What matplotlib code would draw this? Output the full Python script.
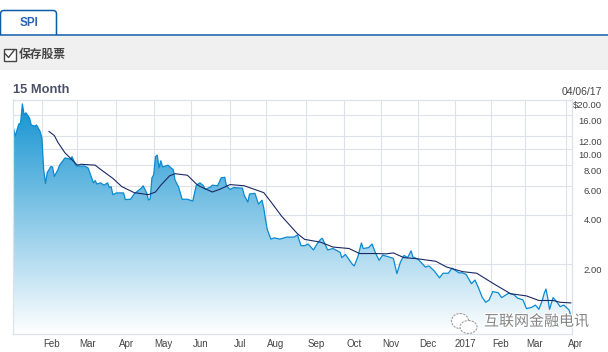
# SPI 15 month price chart, x axis counts trading sessions
import numpy as np
import matplotlib
matplotlib.use("Agg")
import matplotlib.pyplot as plt
import matplotlib.patheffects as pe
from matplotlib.patches import Rectangle, Ellipse, PathPatch
from matplotlib.path import Path
from matplotlib.colors import LinearSegmentedColormap
from matplotlib.ticker import NullLocator
from matplotlib.transforms import ScaledTranslation

plt.rcParams['font.family'] = ['Liberation Sans', 'Noto Sans CJK SC', 'DejaVu Sans']

# price: session number and close
price_s = [0, 1, 2, 3, 4, 5, 6, 7, 9, 10, 12, 13, 15, 16, 17, 18, 19, 21, 22, 23, 25, 26, 29, 32, 33, 35, 36, 40, 42, 43,
           45, 46, 47, 49, 51, 53, 54, 55, 56, 58, 62, 63, 66, 68, 72, 73, 75, 76, 77, 78, 79, 80, 81, 82, 83, 84, 87, 90, 91, 93,
           95, 98, 101, 103, 105, 107, 108, 111, 112, 115, 117, 119, 120, 122, 124, 129, 130, 132, 133, 136, 137, 138, 140, 141, 142, 143, 145, 147, 150, 154,
           158, 160, 162, 164, 166, 169, 171, 173, 174, 177, 180, 184, 185, 187, 191, 192, 194, 196, 197, 200, 202, 204, 206, 208, 211, 214, 216, 218, 220, 222,
           224, 225, 228, 232, 234, 237, 240, 242, 245, 247, 251, 253, 255, 258, 260, 262, 264, 266, 268, 270, 273, 275, 279, 282, 284, 287, 289, 292, 294, 296,
           298, 299, 300, 301, 302, 304, 306, 308, 310, 313, 314]
price_v = [13.4, 12.0, 13.1, 14.2, 14.4, 18.8, 16.1, 16.6, 15.45, 14.0, 13.8, 14.0, 12.8, 11.7, 7.5, 6.2, 7.2, 7.84, 7.8, 6.83, 7.5, 8.0, 8.85, 8.7, 9.0, 8.0, 7.9, 7.9, 7.7, 7.2,
           6.25, 6.45, 6.15, 6.25, 6.05, 6.25, 5.85, 5.93, 5.3, 5.43, 5.43, 4.95, 4.97, 5.36, 5.8, 6.0, 5.45, 4.92, 5.0, 6.7, 7.0, 9.0, 9.2, 7.7, 8.5, 7.8, 8.0, 7.5, 6.5, 5.9,
           4.97, 4.97, 4.85, 6.05, 6.25, 6.0, 5.7, 5.9, 6.05, 6.0, 6.7, 6.75, 6.0, 5.7, 5.85, 5.8, 5.25, 4.78, 5.35, 5.4, 5.0, 4.65, 4.9, 4.4, 3.73, 3.25, 2.85, 2.9, 2.85, 2.93,
           2.93, 3.02, 2.6, 2.6, 2.66, 2.45, 2.66, 2.84, 2.88, 2.45, 2.5, 2.37, 2.2, 2.3, 2.0, 1.96, 2.23, 2.7, 2.5, 2.53, 2.66, 2.34, 2.12, 2.28, 2.23, 2.18, 1.76, 2.07, 2.27, 2.2,
           2.42, 2.22, 2.15, 1.93, 1.96, 1.83, 1.66, 1.77, 1.77, 1.9, 1.78, 1.78, 1.74, 1.53, 1.61, 1.44, 1.27, 1.18, 1.22, 1.37, 1.35, 1.26, 1.34, 1.31, 1.25, 1.22, 1.08, 1.10, 1.135, 1.07,
           1.22, 1.34, 1.42, 1.25, 1.07, 1.26, 1.19, 1.11, 1.135, 1.06, 0.98]

# moving average
avg_s = [20, 23, 25, 29, 36, 38, 46, 49, 56, 61, 68, 76, 80, 83, 88, 91, 98, 103, 105, 112, 116, 122, 130, 141, 145, 151, 160, 164,
         173, 180, 189, 195, 204, 210, 214, 220, 227, 238, 244, 253, 261, 270, 280, 289, 296, 304, 308, 314]
avg_v = [12.8, 12.1, 11.0, 9.5, 8.0, 8.1, 8.0, 7.55, 6.65, 5.93, 5.45, 5.3, 5.5, 6.05, 6.9, 7.1, 6.95, 6.15, 5.95, 5.5, 5.7, 6.1, 6.0, 5.45, 4.8, 3.93, 3.07, 2.84,
         2.73, 2.55, 2.5, 2.33, 2.33, 2.32, 2.35, 2.2, 2.17, 2.09, 1.93, 1.81, 1.77, 1.54, 1.33, 1.29, 1.21, 1.21, 1.18, 1.17]

month_pos = [16, 36, 58, 79, 100, 122, 142, 165, 186, 207, 228, 249, 269, 288, 311]
month_lab = ['Feb', 'Mar', 'Apr', 'May', 'Jun', 'Jul', 'Aug', 'Sep', 'Oct', 'Nov', 'Dec', '2017', 'Feb', 'Mar', 'Apr']
y_ticks = [20, 16, 12, 10, 8, 6, 4, 2]
y_labels = ['$20.00', '16.00', '12.00', '10.00', '8.00', '6.00', '4.00', '2.00']

W, H = 608, 352
GRID = '#dde1ea'
fig = plt.figure(figsize=(W / 100, H / 100), dpi=100, facecolor='white')

# plot area, px 13..572 and 99.5..334
ax = fig.add_axes([13 / W, 1 - 334 / H, 559 / W, 234.5 / H])
ax.set_yscale('log')
ax.set_xlim(-0.28, 314.65)
ax.set_ylim(0.758, 20)

ax.grid(True, color=GRID, lw=0.8, zorder=0)
ax.set_axisbelow(True)
for sp in ax.spines.values():
    sp.set_color(GRID)
    sp.set_linewidth(0.9)

# gradient under the price line
cmap = LinearSegmentedColormap.from_list('fade', ['#1091d0', '#ffffff'])
poly = ax.fill_between(price_s, price_v, 0.758, color='none', lw=0)
img = ax.imshow(np.linspace(0, 1, 256).reshape(-1, 1), cmap=cmap, aspect='auto', extent=[0, 1, 0, 1],
                origin='upper', transform=ax.transAxes, zorder=1)
img.set_clip_path(poly.get_paths()[0], transform=ax.transData)
ax.set_xlim(-0.28, 314.65)
ax.set_ylim(0.758, 20)

ax.plot(price_s, price_v, color='#0a8ad0', lw=0.9, zorder=2)
ax.plot(avg_s, avg_v, color='#1b2a66', lw=0.8, zorder=3)

# ticks, labels sit away from their grid lines
ax.yaxis.set_minor_locator(NullLocator())
ax.set_yticks(y_ticks, y_labels)
ax.set_xticks(month_pos, month_lab)
ax.yaxis.tick_right()
ax.tick_params(axis='both', length=0, labelsize=7, labelcolor='#444444')
ax.tick_params(axis='y', pad=21.6, labelsize=6.8)
ax.tick_params(axis='x', pad=3.4)
for t in ax.get_yticklabels():
    t.set_ha('right')
    t.set_transform(t.get_transform() + ScaledTranslation(0, -5 / 100, fig.dpi_scale_trans))
for t in ax.get_xticklabels():
    t.set_transform(t.get_transform() + ScaledTranslation(10 / 100, 0, fig.dpi_scale_trans))

# page furniture drawn in pixel coordinates
ui = fig.add_axes([0, 0, 1, 1], facecolor='none')
ui.set_xlim(0, W)
ui.set_ylim(H, 0)
ui.axis('off')
ui.add_patch(Rectangle((0, 36), W, 34, fc='#f0f0f0', ec='none'))
ui.plot([0, W], [35, 35], color='#0f5ca8', lw=1.1)
tab = Path([(0.5, 35), (0.5, 14), (0.5, 10.5), (4, 10.5), (53, 10.5), (56.5, 10.5), (56.5, 14), (56.5, 35)],
           [Path.MOVETO, Path.LINETO, Path.CURVE3, Path.CURVE3, Path.LINETO, Path.CURVE3, Path.CURVE3, Path.LINETO])
ui.add_patch(PathPatch(tab, fc='white', ec='#0f5ca8', lw=1.1))
ui.text(29, 23.5, 'SPI', color='#2a62b0', fontsize=8.5, fontweight='bold', ha='center', va='center')

ui.add_patch(Rectangle((3.5, 48.5), 12, 12, fc='white', ec='#444444', lw=1))
ui.plot([5.5, 8.5, 14], [54, 57.5, 50.5], color='#444444', lw=1)
ui.text(19, 54, '保存股票', color='#444444', fontsize=8.5, fontweight='bold', va='center',
        family=['Noto Sans CJK SC', 'DejaVu Sans'])

ui.text(13, 90, '15 Month', color='#4a5068', fontsize=9.3, fontweight='bold', va='center')
ui.text(602, 92, '04/06/17', color='#444444', fontsize=7.5, ha='right', va='center')

# watermark
ui.add_patch(Ellipse((460, 321), 17, 15, fc='white', ec='#a0a0a0', lw=0.8, ls=(0, (2, 1)), zorder=5))
ui.add_patch(Ellipse((468.5, 327), 17, 13, fc='white', ec='#a0a0a0', lw=0.8, ls=(0, (2, 1)), zorder=6))
ui.text(484, 321.5, '互联网金融电讯', color='#858585', fontsize=10.8, va='center', zorder=7,
        family=['Noto Sans CJK SC', 'DejaVu Sans'],
        path_effects=[pe.withStroke(linewidth=1.6, foreground='white')])

fig.savefig('out.png', dpi=100)
